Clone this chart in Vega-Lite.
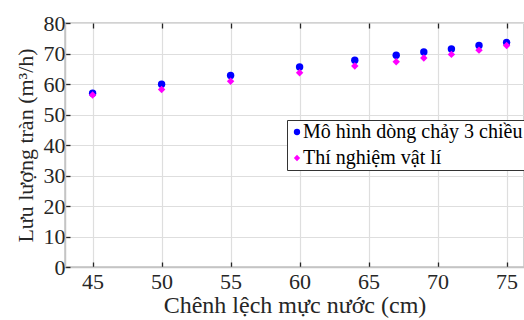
{
  "$schema": "https://vega.github.io/schema/vega-lite/v6.json",
  "width": 459,
  "height": 244,
  "autosize": "none",
  "padding": {"left": 65, "top": 23, "right": 0, "bottom": 53},
  "background": "white",
  "config": {
    "font": "Times New Roman, Liberation Serif, serif",
    "view": {"stroke": "#c4c4c4", "strokeWidth": 1.5},
    "axis": {
      "labelFont": "Times New Roman, Liberation Serif, serif",
      "titleFont": "Times New Roman, Liberation Serif, serif",
      "labelFontSize": 22,
      "titleFontSize": 24,
      "titleFontWeight": "normal",
      "labelColor": "#262626",
      "titleColor": "#262626",
      "gridColor": "#dedede",
      "gridWidth": 1.2,
      "domainColor": "#c4c4c4",
      "domainWidth": 1.5,
      "tickColor": "#262626",
      "tickWidth": 1.3
    },
    "legend": {"labelFont": "Times New Roman, Liberation Serif, serif"}
  },
  "data": {
    "values": [
      {"x": 45, "y": 57.0, "series": "Mô hình dòng chảy 3 chiều"},
      {"x": 50, "y": 59.9, "series": "Mô hình dòng chảy 3 chiều"},
      {"x": 55, "y": 62.8, "series": "Mô hình dòng chảy 3 chiều"},
      {"x": 60, "y": 65.6, "series": "Mô hình dòng chảy 3 chiều"},
      {"x": 64, "y": 67.8, "series": "Mô hình dòng chảy 3 chiều"},
      {"x": 67, "y": 69.4, "series": "Mô hình dòng chảy 3 chiều"},
      {"x": 69, "y": 70.5, "series": "Mô hình dòng chảy 3 chiều"},
      {"x": 71, "y": 71.5, "series": "Mô hình dòng chảy 3 chiều"},
      {"x": 73, "y": 72.6, "series": "Mô hình dòng chảy 3 chiều"},
      {"x": 75, "y": 73.6, "series": "Mô hình dòng chảy 3 chiều"},
      {"x": 45, "y": 56.4, "series": "Thí nghiệm vật lí"},
      {"x": 50, "y": 58.2, "series": "Thí nghiệm vật lí"},
      {"x": 55, "y": 60.9, "series": "Thí nghiệm vật lí"},
      {"x": 60, "y": 63.7, "series": "Thí nghiệm vật lí"},
      {"x": 64, "y": 65.9, "series": "Thí nghiệm vật lí"},
      {"x": 67, "y": 67.3, "series": "Thí nghiệm vật lí"},
      {"x": 69, "y": 68.5, "series": "Thí nghiệm vật lí"},
      {"x": 71, "y": 69.7, "series": "Thí nghiệm vật lí"},
      {"x": 73, "y": 71.1, "series": "Thí nghiệm vật lí"},
      {"x": 75, "y": 72.6, "series": "Thí nghiệm vật lí"}
    ]
  },
  "layer": [
    {
      "mark": {"type": "point", "filled": true, "opacity": 1, "size": 55},
      "encoding": {
        "x": {
          "field": "x", "type": "quantitative",
          "scale": {"domain": [43, 76.26], "nice": false, "zero": false},
          "axis": {
            "title": "Chênh lệch mực nước (cm)",
            "values": [45, 50, 55, 60, 65, 70, 75],
            "tickSize": -5,
            "labelPadding": 9,
            "titlePadding": 1
          }
        },
        "y": {
          "field": "y", "type": "quantitative",
          "scale": {"domain": [0, 80], "nice": false},
          "axis": {
            "title": "Lưu lượng tràn (m³/h)",
            "titleFontSize": 22,
            "values": [0, 10, 20, 30, 40, 50, 60, 70, 80],
            "tickSize": -5,
            "labelPadding": 5,
            "titlePadding": 6
          }
        },
        "color": {
          "field": "series", "type": "nominal",
          "scale": {"domain": ["Mô hình dòng chảy 3 chiều", "Thí nghiệm vật lí"], "range": ["#0000ff", "#ff00ff"]},
          "legend": {
            "orient": "none",
            "legendX": 222,
            "legendY": 97,
            "title": null,
            "strokeColor": "#333333",
            "fillColor": "white",
            "padding": 2,
            "labelFont": "Times New Roman, Liberation Serif, serif",
            "labelFontSize": 20,
            "labelColor": "#000000",
            "labelLimit": 500,
            "symbolSize": 40,
            "symbolOffset": -2,
            "rowPadding": 6,
            "labelOffset": -4
          }
        },
        "shape": {
          "field": "series", "type": "nominal",
          "scale": {"domain": ["Mô hình dòng chảy 3 chiều", "Thí nghiệm vật lí"], "range": ["circle", "diamond"]},
          "legend": null
        }
      }
    },
    {
      "mark": {"type": "point", "opacity": 0},
      "encoding": {
        "x": {
          "field": "x", "type": "quantitative",
          "scale": {"domain": [43, 76.26], "nice": false, "zero": false},
          "axis": {
            "orient": "top",
            "title": null,
            "labels": false,
            "domain": false,
            "grid": false,
            "values": [45, 50, 55, 60, 65, 70, 75],
            "tickSize": -5
          }
        }
      }
    }
  ],
  "resolve": {"axis": {"x": "independent"}}
}
